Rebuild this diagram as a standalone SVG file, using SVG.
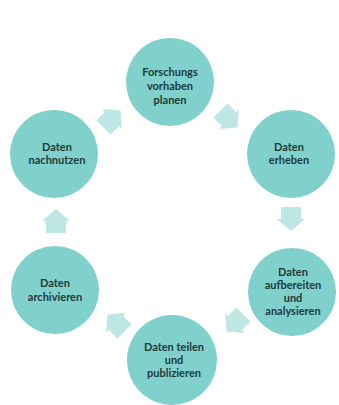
<svg xmlns="http://www.w3.org/2000/svg" width="339" height="405" viewBox="0 0 339 405">
<style>
.node{fill:#80d0cc}
.lbl{font-family:Lato,"Open Sans",sans-serif;font-weight:bold;font-size:11px;fill:#1e3a3a;text-anchor:middle}
.arr{fill:#bde6e4}
</style>
<defs>
<polygon id="arrow" points="-12,-10 0,-10 0,-14 12,0 0,14 0,10 -12,10"/>
</defs>
<rect width="339" height="405" fill="#ffffff"/>
<g id="connectors">
<use href="#arrow" class="arr" transform="translate(112,119) rotate(-45)"/>
<use href="#arrow" class="arr" transform="translate(229,119) rotate(45)"/>
<use href="#arrow" class="arr" transform="translate(291,219) rotate(90)"/>
<use href="#arrow" class="arr" transform="translate(235,323) rotate(135)"/>
<use href="#arrow" class="arr" transform="translate(116,323) rotate(-135)"/>
<use href="#arrow" class="arr" transform="translate(56,221) rotate(-90)"/>
</g>
<g id="n1">
<circle class="node" cx="170" cy="82" r="44"/>
<text class="lbl" x="170" y="76">Forschungs</text>
<text class="lbl" x="170" y="90">vorhaben</text>
<text class="lbl" x="170" y="104">planen</text>
</g>
<g id="n2">
<circle class="node" cx="291" cy="154" r="44"/>
<text class="lbl" x="289" y="151">Daten</text>
<text class="lbl" x="289" y="164">erheben</text>
</g>
<g id="n3">
<circle class="node" cx="292" cy="292" r="44"/>
<text class="lbl" x="293" y="276">Daten</text>
<text class="lbl" x="293" y="289">aufbereiten</text>
<text class="lbl" x="293" y="302">und</text>
<text class="lbl" x="293" y="315">analysieren</text>
</g>
<g id="n4">
<circle class="node" cx="172" cy="360" r="45"/>
<text class="lbl" x="174" y="351">Daten teilen</text>
<text class="lbl" x="174" y="364">und</text>
<text class="lbl" x="174" y="377">publizieren</text>
</g>
<g id="n5">
<circle class="node" cx="55" cy="290" r="44"/>
<text class="lbl" x="55" y="287">Daten</text>
<text class="lbl" x="55" y="301">archivieren</text>
</g>
<g id="n6">
<circle class="node" cx="54" cy="154" r="44"/>
<text class="lbl" x="57" y="151">Daten</text>
<text class="lbl" x="57" y="164">nachnutzen</text>
</g>
</svg>
